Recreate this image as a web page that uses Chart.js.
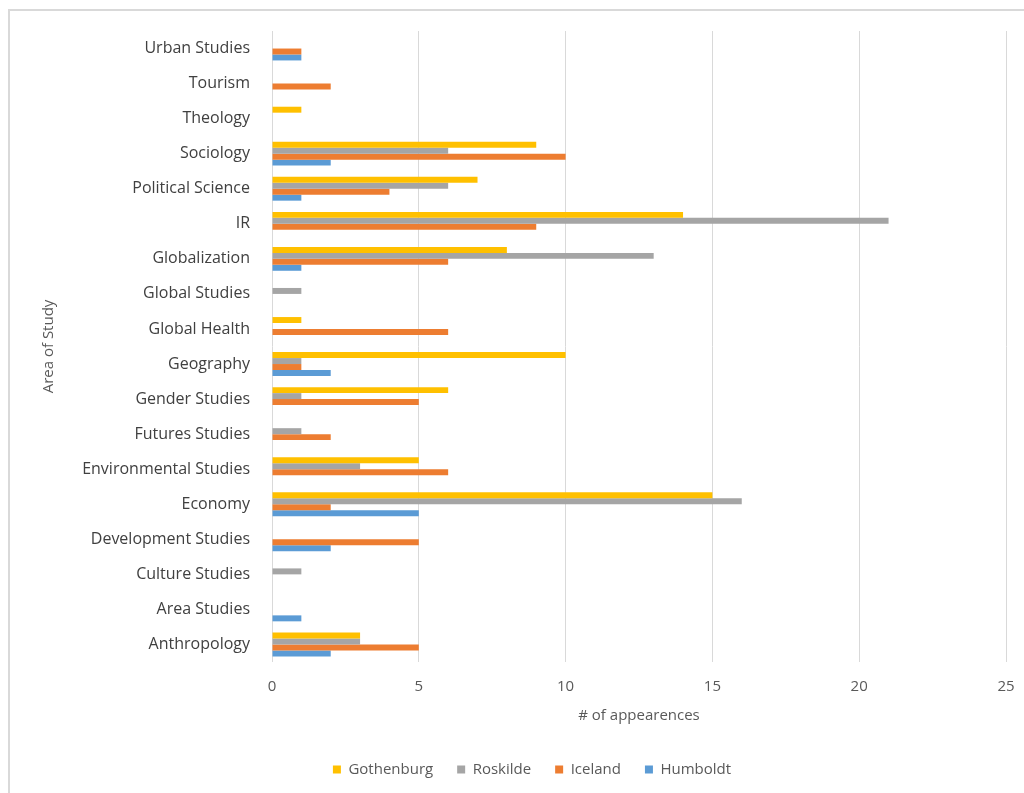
<!DOCTYPE html>
<html>
<head>
<meta charset="utf-8">
<script src="https://cdn.jsdelivr.net/npm/chart.js@4"></script>
<style>
    body { margin: 0; background: #fff; }
    #wrap { position: relative; width: 1024px; height: 793px; overflow: hidden; }
    #frame { position: absolute; left: 8px; top: 9px; width: 1040px; height: 820px; border: 2px solid #d9d9d9; box-sizing: border-box; }
    canvas { position: absolute; left: 0; top: 0; }
</style>
</head>
<body>
<div id="wrap">
    <div id="frame"></div>
    <canvas id="chart" width="1024" height="793"></canvas>
</div>
<script>
const areas = [
    'Urban Studies', 'Tourism', 'Theology', 'Sociology', 'Political Science', 'IR',
    'Globalization', 'Global Studies', 'Global Health', 'Geography', 'Gender Studies',
    'Futures Studies', 'Environmental Studies', 'Economy', 'Development Studies',
    'Culture Studies', 'Area Studies', 'Anthropology'
];

const gothenburg = [0, 0, 1, 9, 7, 14, 8, 0, 1, 10, 6, 0, 5, 15, 0, 0, 0, 3];
const roskilde   = [0, 0, 0, 6, 6, 21, 13, 1, 0, 1, 1, 1, 3, 16, 0, 1, 0, 3];
const iceland    = [1, 2, 0, 10, 4, 9, 6, 0, 6, 1, 5, 2, 6, 2, 5, 0, 0, 5];
const humboldt   = [1, 0, 0, 2, 1, 0, 1, 0, 0, 2, 0, 0, 0, 5, 2, 0, 1, 2];

const xTicks = [0, 5, 10, 15, 20, 25];

const font = "'Open Sans', 'Liberation Sans', sans-serif";

function series(label, data, color) {
    return {
        label: label,
        data: data,
        backgroundColor: color,
        borderWidth: 0,
        categoryPercentage: 0.68,
        barPercentage: 1
    };
}

new Chart(document.getElementById('chart'), {
    type: 'bar',
    data: {
        labels: areas,
        datasets: [
            series('Gothenburg', gothenburg, '#ffc000'),
            series('Roskilde', roskilde, '#a5a5a5'),
            series('Iceland', iceland, '#ed7d31'),
            series('Humboldt', humboldt, '#5b9bd5')
        ]
    },
    options: {
        indexAxis: 'y',
        responsive: false,
        animation: false,
        layout: { padding: { left: 40, top: 31, right: 0, bottom: 6 } },
        plugins: {
            legend: {
                position: 'bottom',
                labels: {
                    color: '#595959',
                    font: { family: font, size: 15 },
                    boxWidth: 8,
                    boxHeight: 8,
                    padding: 24
                }
            },
            tooltip: { enabled: false }
        },
        scales: {
            x: {
                min: 0,
                max: 25,
                afterBuildTicks: axis => { axis.ticks = xTicks.map(v => ({ value: v })); },
                grid: { color: '#d9d9d9', lineWidth: 1, drawTicks: false },
                border: { display: false },
                ticks: { color: '#595959', font: { family: font, size: 15 }, padding: 16 },
                title: {
                    display: true,
                    text: '# of appearences',
                    color: '#595959',
                    font: { family: font, size: 15 },
                    padding: { top: 0, bottom: 13 }
                },
                afterFit: axis => {
                    axis.height = 76;
                    axis.paddingRight = 18;
                }
            },
            y: {
                grid: { display: false },
                border: { display: false },
                ticks: { color: '#404040', font: { family: font, size: 16 }, padding: 14, autoSkip: false },
                title: {
                    display: true,
                    text: 'Area of Study',
                    color: '#595959',
                    font: { family: font, size: 15 },
                    padding: 0
                },
                afterFit: axis => { axis.width = 232; }
            }
        }
    }
});
</script>
</body>
</html>
